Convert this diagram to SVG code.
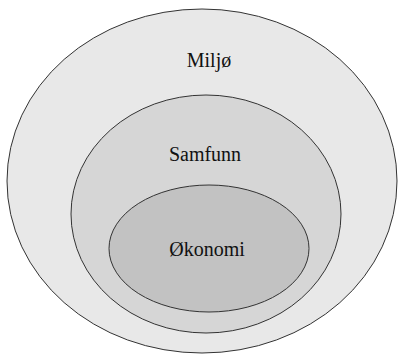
<svg xmlns="http://www.w3.org/2000/svg" width="398" height="356" viewBox="0 0 398 356">
<style>
ellipse{stroke:#333;stroke-width:1}
text{font-family:'Liberation Serif','Times New Roman',serif;font-size:20px;fill:#111;text-anchor:middle}
</style>
<rect width="398" height="356" fill="#fff"/>
<g id="miljo"><ellipse cx="202" cy="181" rx="195" ry="172" fill="#e8e8e8"/><text x="209" y="67">Miljø</text></g>
<g id="samfunn"><ellipse cx="206" cy="214" rx="135" ry="119" fill="#d6d6d6"/><text x="205" y="161">Samfunn</text></g>
<g id="okonomi"><ellipse cx="209" cy="248.5" rx="100" ry="63.5" fill="#c2c2c2"/><text x="207" y="256">Økonomi</text></g>
<g id="connectors"/>
</svg>
